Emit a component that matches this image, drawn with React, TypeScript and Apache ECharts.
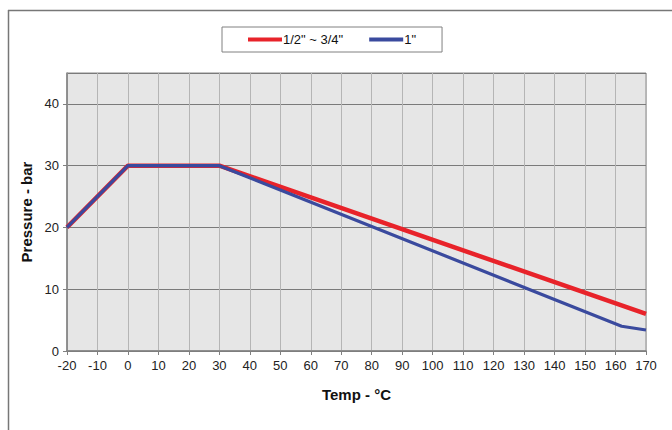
import React, { useEffect, useRef } from "react";
import * as echarts from "echarts";

const seriesNames = ['1/2" ~ 3/4"', '1"'];
const redPoints: [number, number][] = [
  [-20, 20],
  [0, 30],
  [30, 30],
  [170, 6],
];
const bluePoints: [number, number][] = [
  [-20, 20],
  [0, 30],
  [30, 30],
  [162, 4],
  [170, 3.4],
];
const xTickMin = -20;
const xTickMax = 170;
const yTickMax = 45;

export default function App() {
  const ref = useRef<HTMLDivElement>(null);
  useEffect(() => {
    document.body.style.margin = "0";
    const chart = echarts.init(ref.current!, null, { renderer: "svg" });
    const font = "Liberation Sans, Arial, sans-serif";
    chart.setOption({
      animation: false,
      backgroundColor: "#ffffff",
      graphic: [
        { type: "line", shape: { x1: 8, y1: 10.5, x2: 672, y2: 10.5 }, style: { stroke: "#777", lineWidth: 1.5 } },
        { type: "line", shape: { x1: 8.5, y1: 10, x2: 8.5, y2: 430 }, style: { stroke: "#777", lineWidth: 1.5 } },
      ],
      legend: {
        left: 222,
        top: 27,
        data: [
          { name: seriesNames[0], icon: "rect" },
          { name: seriesNames[1], icon: "rect" },
        ],
        itemWidth: 34,
        itemHeight: 4,
        itemGap: 26,
        padding: [6, 26, 6, 26],
        borderColor: "#808080",
        borderWidth: 1,
        backgroundColor: "#ffffff",
        textStyle: { fontFamily: font, fontSize: 13, color: "#111", padding: [0, 0, 0, -4] },
      },
      grid: {
        left: 67,
        right: 26,
        top: 73,
        bottom: 79,
        show: true,
        backgroundColor: "#e6e6e6",
        borderColor: "#8a8a8a",
        borderWidth: 1,
      },
      xAxis: {
        type: "value",
        min: xTickMin,
        max: xTickMax,
        interval: 10,
        name: "Temp - °C",
        nameLocation: "middle",
        nameGap: 36,
        nameTextStyle: { fontFamily: font, fontSize: 15, fontWeight: "bold", color: "#111" },
        axisLine: { show: true, onZero: false, lineStyle: { color: "#808080", width: 1.5 } },
        axisTick: { show: true, length: 4, lineStyle: { color: "#808080" } },
        axisLabel: { fontFamily: font, fontSize: 13, color: "#222", margin: 8 },
        splitLine: { show: true, lineStyle: { color: "#b5b5b5", width: 1 } },
      },
      yAxis: {
        type: "value",
        min: 0,
        max: yTickMax,
        interval: 10,
        name: "Pressure - bar",
        nameLocation: "middle",
        nameGap: 30,
        nameTextStyle: { fontFamily: font, fontSize: 15, fontWeight: "bold", color: "#111" },
        axisLine: { show: true, onZero: false, lineStyle: { color: "#808080", width: 1.5 } },
        axisTick: { show: true, length: 4, lineStyle: { color: "#808080" } },
        axisLabel: {
          fontFamily: font,
          fontSize: 13,
          color: "#222",
          margin: 8,
          showMaxLabel: false,
        },
        splitLine: { show: true, lineStyle: { color: "#7a7a7a", width: 1.2 } },
      },
      series: [
        {
          name: seriesNames[0],
          type: "line",
          data: redPoints,
          symbol: "none",
          itemStyle: { color: "#e8232a" },
          lineStyle: { color: "#e8232a", width: 4.5 },
        },
        {
          name: seriesNames[1],
          type: "line",
          data: bluePoints,
          symbol: "none",
          itemStyle: { color: "#3a4a9e" },
          lineStyle: { color: "#3a4a9e", width: 3.2 },
        },
      ],
    });
    return () => chart.dispose();
  }, []);
  return <div ref={ref} style={{ width: 672, height: 430 }} />;
}
